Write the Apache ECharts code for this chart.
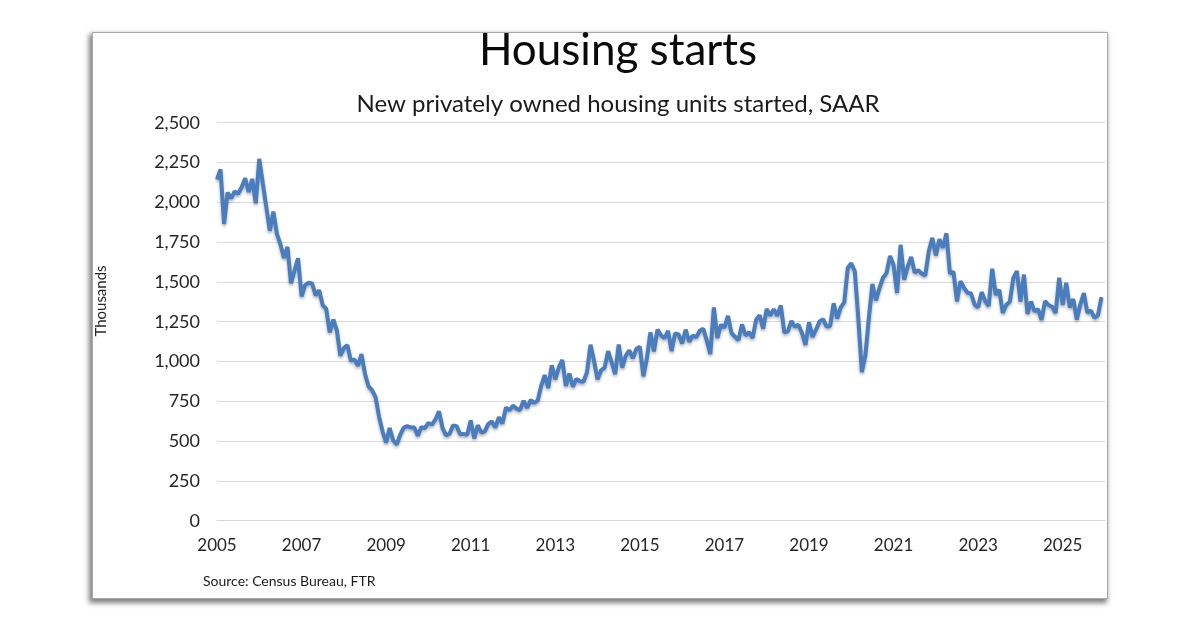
<!DOCTYPE html>
<html>
<head>
<meta charset="utf-8">
<script src="https://cdn.jsdelivr.net/npm/echarts@6/dist/echarts.min.js"></script>
<style>
  html, body { margin: 0; padding: 0; background: #ffffff; }
  #card { position: absolute; left: 92px; top: 32px; width: 1014px; height: 565px; background: #fff;
          border: 1px solid #a8a8a8; box-shadow: -2px 3px 5px 1px rgba(0,0,0,0.5); }
  #chart { position: absolute; left: 0; top: 0; width: 1200px; height: 628px; }
</style>
</head>
<body>
<div id="card"></div>
<div id="chart"></div>
<script>
// Tick labels / categories
const years = [2005,2006,2007,2008,2009,2010,2011,2012,2013,2014,2015,2016,2017,2018,2019,2020,2021,2022,2023,2024,2025];
const labelYears = [2005,2007,2009,2011,2013,2015,2017,2019,2021,2023,2025];

// Housing starts, SAAR, thousands (Jan..Dec per year)
const s2005 = [2144,2207,1864,2061,2025,2068,2054,2095,2151,2065,2147,1994];
const s2006 = [2273,2119,1969,1821,1942,1802,1737,1650,1720,1491,1570,1649];
const s2007 = [1409,1480,1495,1490,1415,1448,1354,1330,1183,1264,1197,1037];
const s2008 = [1084,1103,1005,1013,973,1046,923,844,820,777,652,560];
const s2009 = [490,582,505,478,540,585,594,586,585,534,588,581];
const s2010 = [614,604,636,687,583,536,546,599,594,543,545,539];
const s2011 = [630,517,600,554,561,608,623,585,650,610,711,694];
const s2012 = [723,704,695,753,708,757,740,754,847,915,833,976];
const s2013 = [888,962,1010,847,925,842,891,876,873,932,1105,1003];
const s2014 = [888,945,962,1065,995,921,1107,961,1036,1071,1020,1079];
const s2015 = [1093,907,1021,1183,1064,1201,1165,1146,1193,1066,1177,1170];
const s2016 = [1113,1200,1124,1163,1152,1193,1206,1131,1047,1340,1147,1231];
const s2017 = [1213,1287,1180,1155,1134,1233,1164,1184,1148,1262,1291,1206];
const s2018 = [1330,1289,1329,1287,1352,1183,1189,1255,1218,1231,1181,1104];
const s2019 = [1246,1154,1200,1252,1266,1219,1223,1366,1269,1340,1371,1587];
const s2020 = [1617,1567,1269,934,1038,1273,1487,1384,1461,1526,1555,1663];
const s2021 = [1606,1431,1733,1514,1594,1657,1558,1573,1552,1541,1693,1777];
const s2022 = [1666,1768,1714,1805,1553,1564,1377,1505,1463,1432,1427,1357];
const s2023 = [1340,1436,1380,1348,1583,1418,1451,1305,1356,1376,1525,1568];
const s2024 = [1376,1546,1299,1377,1315,1329,1262,1379,1355,1344,1305,1526];
const s2025 = [1355,1494,1339,1392,1263,1358,1429,1307,1320,1275,1290,1405];

const yearly = [s2005,s2006,s2007,s2008,s2009,s2010,s2011,s2012,s2013,s2014,s2015,s2016,s2017,s2018,s2019,s2020,s2021,s2022,s2023,s2024,s2025];

const categories = [];
const starts = [];
years.forEach((y, i) => {
  yearly[i].forEach((v, m) => {
    categories.push(y + '-' + String(m + 1).padStart(2, '0'));
    starts.push(v);
  });
});
// axis runs to the start of the next year
categories.push('2026-01');
starts.push(null);

const FONT = 'Lato';
const chart = echarts.init(document.getElementById('chart'), null, { renderer: 'canvas' });
chart.setOption({
  animation: false,
  backgroundColor: 'transparent',
  title: [
    { text: 'Housing starts', left: 613, top: 24, textAlign: 'center',
      textStyle: { fontFamily: FONT, fontSize: 44, fontWeight: 'normal', color: '#0a0a0a' } },
    { text: 'New privately owned housing units started, SAAR', left: 613, top: 87, textAlign: 'center',
      textStyle: { fontFamily: FONT, fontSize: 24, fontWeight: 'normal', color: '#1a1a1a' } }
  ],
  grid: { left: 217, right: 95, top: 122.7, bottom: 107.3, containLabel: false },
  xAxis: {
    type: 'category',
    data: categories,
    boundaryGap: false,
    axisLine: { show: true, lineStyle: { color: '#d9d9d9', width: 1 } },
    axisTick: { show: false },
    splitLine: { show: false },
    axisLabel: {
      interval: (idx, val) => {
        const y = parseInt(val.slice(0, 4), 10);
        return val.slice(5) === '01' && labelYears.indexOf(y) >= 0;
      },
      formatter: (val) => val.slice(0, 4),
      fontFamily: FONT, fontSize: 17, color: '#262626', margin: 16
    }
  },
  yAxis: {
    type: 'value',
    min: 0, max: 2500, interval: 250,
    axisLine: { show: false },
    axisTick: { show: false },
    splitLine: { lineStyle: { color: '#d9d9d9', width: 1 } },
    axisLabel: {
      formatter: (v) => v.toLocaleString('en-US'),
      fontFamily: FONT, fontSize: 18, color: '#262626', margin: 17
    }
  },
  graphic: [
    { type: 'text', x: 101, y: 301, rotation: Math.PI / 2,
      style: { text: 'Thousands', font: '15px ' + FONT, fill: '#262626', align: 'center', verticalAlign: 'middle' } },
    { type: 'text', left: 203, top: 574,
      style: { text: 'Source: Census Bureau, FTR', font: '14px ' + FONT, fill: '#1a1a1a' } }
  ],
  series: [{
    type: 'line',
    data: starts,
    showSymbol: false,
    connectNulls: false,
    lineStyle: { color: '#4a7dbd', width: 4, shadowColor: 'rgba(0,0,0,0.3)', shadowBlur: 3, shadowOffsetY: 2 },
    itemStyle: { color: '#4a7dbd' }
  }]
});
</script>
</body>
</html>
